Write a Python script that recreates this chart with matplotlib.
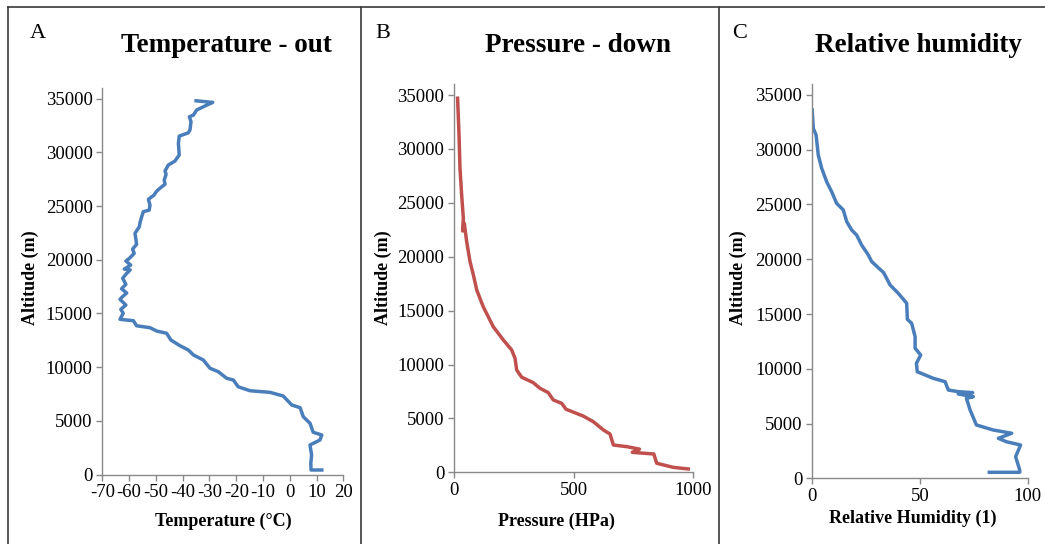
import matplotlib
matplotlib.use("Agg")
import matplotlib.pyplot as plt
from matplotlib.lines import Line2D

plt.rcParams['font.family'] = ['Liberation Serif', 'DejaVu Serif']
plt.rcParams['axes.unicode_minus'] = False

# --- data ---
temp = [-35, -28.8, -31, -34.8, -36, -37.5, -36.9, -37.3, -37.9, -41.3, -41.6, -41.3,
        -42.9, -45.4, -46.6, -46.2, -46.9, -46.6, -47.8, -49.7, -50.7, -52.8, -52.2,
        -52.5, -54.7, -55.3, -55.9, -56.2, -57.8, -57.2, -58.7, -58.1, -59.9, -61.2,
        -59.4, -61.8, -59.6, -60.9, -62.4, -61.2, -62.8, -60.9, -62.5, -63.4, -61.2,
        -63.1, -62.2, -63.4, -58.4, -57.2, -52.2, -49.7, -46, -44.4, -41, -37.9, -36,
        -32.3, -29.8, -26.7, -23.6, -21.1, -19.3, -14.9, -7.4, -2.5, 0.7, 3.8, 5, 7.5,
        8.7, 11.9, 11.2, 7.5, 8.1, 7.8, 7.9, 11.9]
temp_alt = [34800, 34650, 34400, 33940, 33470, 33310, 32850, 32070, 31820, 31510, 30830,
            29750, 29190, 28810, 28260, 27950, 27420, 27020, 26800, 26390, 26020, 25620,
            25090, 24620, 24470, 24000, 23480, 23070, 22460, 21430, 20990, 20590, 20130,
            19880, 19500, 19130, 19050, 18730, 18270, 17710, 17300, 16900, 16550, 16310,
            15780, 15380, 15010, 14450, 14320, 13850, 13670, 13360, 13150, 12520, 11990,
            11590, 11130, 10660, 9890, 9570, 8960, 8800, 8170, 7800, 7650, 7310, 6470,
            6220, 5380, 4770, 3930, 3680, 3210, 2750, 1820, 1040, 420, 420]

pres = [15, 21, 25, 32, 39, 36, 43, 53, 67, 81, 95, 122, 164, 206, 241, 255, 262, 283,
        331, 359, 394, 415, 450, 468, 540, 582, 624, 652, 666, 722, 775, 745, 835, 847,
        916, 979]
pres_alt = [34710, 31300, 28210, 25730, 23570, 22390, 23110, 21400, 19540, 18310, 16920,
            15370, 13510, 12280, 11350, 10580, 9490, 8820, 8320, 7800, 7390, 6710, 6400,
            5850, 5220, 4700, 3930, 3550, 2530, 2380, 2150, 1850, 1700, 840, 460, 310]

rh = [0.1, 0.6, 1.9, 2.9, 4.5, 6.8, 9.1, 11.4, 14.5, 16.1, 18.4, 20.7, 23, 26.1, 27.7,
      30.7, 33.1, 33.8, 36.2, 40, 43.9, 44.2, 46.2, 47.8, 47.8, 50.4, 48.4, 48.8, 56.2,
      61.7, 63.2, 67.8, 74.5, 67.8, 74.8, 71.6, 73.3, 76.2, 84, 92.6, 86.4, 90.1, 96.7,
      94.4, 96.3, 96.3, 82.2]
rh_alt = [33620, 31950, 31340, 29520, 28300, 27080, 26170, 25110, 24500, 23430, 22670,
          22210, 21300, 20390, 19780, 19230, 18800, 18560, 17650, 16890, 15980, 14520,
          14150, 12930, 11870, 11260, 10500, 9730, 9130, 8820, 8060, 7910, 7820, 7700,
          7450, 7300, 6240, 4870, 4410, 4110, 3650, 3340, 3040, 1970, 760, 550, 550]

blue = '#4a7ebb'
red = '#c0504d'
axis_grey = '#898989'

fig = plt.figure(figsize=(10.45, 5.44), dpi=100)

panels = [
    # rect (px), x, y, colour, xlim, xticks, letter, title, xlabel,
    # letter x, title x, ylabel x, xlabel x, xlabel y
    ([102.3, 474.5, 241.2, 386.6], temp, temp_alt, blue, (-70, 20), list(range(-70, 21, 10)),
     'A', 'Temperature - out', 'Temperature (°C)', 38, 226, 30, 223, 521),
    ([454, 472.3, 239.3, 388.0], pres, pres_alt, red, (0, 1000), [0, 500, 1000],
     'B', 'Pressure - down', 'Pressure (HPa)', 383, 578, 383, 556, 521),
    ([812, 478.3, 215.7, 394.3], rh, rh_alt, blue, (0, 100), [0, 50, 100],
     'C', 'Relative humidity', 'Relative Humidity (1)', 740, 918, 738, 913, 518),
]

W, H = 1045, 544
for rect, xs, ys, col, xlim, xticks, letter, title, xlabel, lx, tx, ylx, xlx, xly in panels:
    left, bottom, w, h = rect
    ax = fig.add_axes([left / W, 1 - bottom / H, w / W, h / H])
    ax.plot(xs, ys, color=col, lw=2.5, solid_joinstyle='round')
    ax.set_xlim(*xlim)
    ax.set_ylim(0, 36000)
    ax.set_xticks(xticks)
    ax.set_yticks(range(0, 35001, 5000))
    for s in ['top', 'right']:
        ax.spines[s].set_visible(False)
    for s in ['left', 'bottom']:
        ax.spines[s].set_color(axis_grey)
        ax.spines[s].set_linewidth(1.0)
    ax.tick_params(direction='out', length=4, width=1.0, color=axis_grey,
                   labelsize=13.5, pad=3, labelcolor='black')
    fig.text(lx / W, 1 - 33 / H, letter, fontsize=16, ha='center', va='center')
    fig.text(tx / W, 1 - 45 / H, title, fontsize=19.5, fontweight='bold', ha='center', va='center')
    fig.text(ylx / W, 1 - 278 / H, 'Altitude (m)', fontsize=13, fontweight='bold',
             rotation=90, ha='center', va='center')
    fig.text(xlx / W, 1 - xly / H, xlabel, fontsize=13, fontweight='bold',
             ha='center', va='center')

# panel borders
border = '#3a3a3a'
fig.add_artist(Line2D([8 / W, 1], [1 - 7 / H, 1 - 7 / H], color=border, lw=1.2))
for xb in [8, 361, 719]:
    fig.add_artist(Line2D([xb / W, xb / W], [0, 1 - 7 / H], color=border, lw=1.2))

fig.savefig('out.png', dpi=100)
